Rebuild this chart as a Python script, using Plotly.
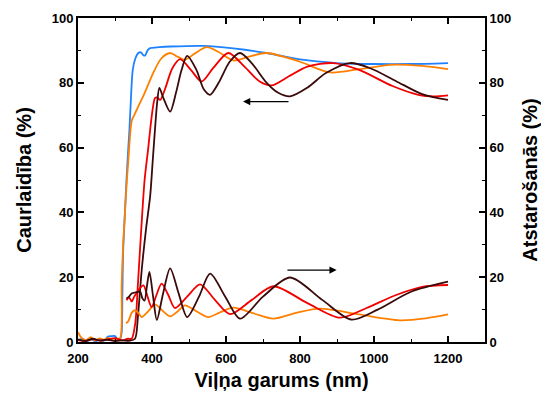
import plotly.graph_objects as go

# ---------------- data ----------------
# Transmission (left axis)
blue_T_wl = [200, 212, 224, 236, 248, 260, 270, 280, 290, 300, 308, 314, 318, 320, 322, 326, 331, 336, 339, 343, 348,
             355, 363, 370, 376, 381, 388, 395, 420, 450, 539, 620, 710, 800, 899, 1000, 1100, 1200]
blue_T = [0.5, 1.0, 0.3, 0.8, 0.2, 1.0, 0.4, 1.6, 1.8, 1.8, 0.5, 1.0, 3, 15, 28, 38, 50, 60, 65.5, 75, 84,
          87.5, 89.2, 89.4, 88.6, 88.4, 90, 90.7, 91, 91.2, 91.4, 90.6, 89.2, 87.2, 86.1, 85.8, 85.8, 86.1]

orange_T_wl = [200, 210, 222, 234, 246, 258, 270, 282, 294, 306, 314, 318, 322, 326, 331, 336, 342, 346, 352, 362,
               376, 390, 403, 425, 449, 470, 489, 515, 548, 580, 620, 660, 710, 800, 881, 960, 1052, 1130, 1200]
orange_T = [3.0, 1.2, 0.6, 1.5, 0.4, 1.1, 0.7, 1.3, 0.5, 1.0, 1.2, 18, 30, 38, 48, 56, 65.5, 68.6, 70, 72.5,
            75.8, 79.5, 83, 87.5, 89.2, 88, 87.1, 89, 91, 89.5, 86.9, 88, 89.2, 86.5, 83.2, 84.2, 85.6, 85.2, 84.2]

red_T_wl = [200, 220, 240, 260, 280, 300, 320, 335, 345, 355, 362, 370, 380, 390, 395, 402, 408, 414, 422, 435,
            455, 476, 505, 534, 565, 606, 650, 690, 723, 770, 820, 890, 960, 1050, 1120, 1160, 1200]
red_T = [0.6, 0.3, 0.9, 0.4, 0.8, 1.2, 0.5, 1.0, 1.0, 6, 18, 33, 50, 60, 65.5, 72, 75.3, 75.5, 74.7, 78,
         84.5, 87.3, 84, 80.4, 84.5, 89.2, 85, 80.5, 79.2, 82, 85, 86.1, 84, 79, 76.3, 75.8, 76.1]

brown_T_wl = [200, 220, 240, 260, 280, 300, 320, 340, 354, 362, 372, 384, 395, 402, 408, 414, 420, 430, 449, 465,
              480, 495, 520, 540, 557, 580, 610, 638, 670, 710, 740, 773, 820, 870, 935, 990, 1060, 1130, 1200]
brown_T = [0.8, 0.3, 1.0, 0.4, 0.7, 0.3, 0.5, 0.4, 1.0, 8, 22, 35, 45, 56, 65.5, 74, 78.4, 75.5, 71.1, 77,
           84, 88.3, 84, 78, 76.3, 80, 86.5, 89.2, 86, 80, 77, 75.8, 78.5, 83, 86.1, 84.5, 80.5, 76.5, 74.7]

# Reflectance (right axis)
red_R_wl = [331, 338, 345, 352, 358, 366, 377, 388, 399, 412, 426, 444, 462, 495, 530, 570, 611, 670, 728,
            820, 908, 980, 1060, 1130, 1200]
red_R = [12.9, 13.8, 12.5, 14, 15, 16.5, 17.5, 14, 10.8, 14.5, 18, 14.5, 10.5, 14, 17.8, 13, 8.6, 13, 17.2,
         12, 7.5, 10.5, 14.5, 17, 17.6]

brown_R_wl = [331, 338, 345, 356, 368, 374, 380, 386, 393, 403, 413, 430, 449, 472, 495, 527, 557, 598, 638, 700,
              773, 860, 939, 1010, 1100, 1200]
brown_R = [13.4, 14, 15, 15.3, 15.5, 13.5, 12.8, 17, 21.6, 14, 6.8, 15, 22.7, 15, 7.7, 14, 21.1, 14, 7.2, 14,
           19.9, 13, 6.9, 10, 15.5, 18.6]

orange_R_wl = [330, 336, 345, 354, 363, 372, 390, 408, 430, 449, 470, 489, 520, 552, 585, 620, 675, 728, 790,
               854, 960, 1070, 1140, 1200]
orange_R = [5.8, 6.4, 9, 9.8, 9, 7.7, 9.5, 11.6, 9.5, 7.9, 9.5, 11.3, 9.5, 7.7, 9.2, 10.6, 8.8, 7.2, 9,
            10.3, 8.5, 6.7, 7.3, 8.5]

x_ticks = [200, 400, 600, 800, 1000, 1200]
y_ticks = [0, 20, 40, 60, 80, 100]

BLUE = "#1E82FF"
ORANGE = "#FF8000"
RED = "#F00000"
BROWN = "#3A0A0A"

fig = go.Figure()

def add(x, y, color, yaxis="y"):
    fig.add_trace(go.Scatter(x=x, y=y, mode="lines", yaxis=yaxis,
                             line=dict(color=color, width=1.8, shape="spline", smoothing=0.8),
                             showlegend=False, hoverinfo="skip"))

add(blue_T_wl, blue_T, BLUE)
add(orange_T_wl, orange_T, ORANGE)
add(red_T_wl, red_T, RED)
add(brown_T_wl, brown_T, BROWN)
add(orange_R_wl, orange_R, ORANGE, "y2")
add(red_R_wl, red_R, RED, "y2")
add(brown_R_wl, brown_R, BROWN, "y2")

FONT = "Liberation Sans, Arial, sans-serif"
tickfont = dict(family=FONT, size=13, color="black", weight="bold")
titlefont = dict(family=FONT, size=20, color="black", weight="bold")

common = dict(ticks="inside", ticklen=6, tickwidth=1.5, tickcolor="black", showline=True, linewidth=2,
              linecolor="black", showgrid=False, zeroline=False, tickfont=tickfont, automargin=False)

# the page body adds an 8 px offset, so the figure is sized to fit inside the 549x399 window
fig.update_layout(
    width=533, height=383,
    margin=dict(l=70, r=56, t=10, b=49),
    plot_bgcolor="white", paper_bgcolor="white",
    xaxis=dict(range=[200, 1300], tickvals=x_ticks, mirror="ticks", ticklabelstandoff=3,
               minor=dict(dtick=100, tick0=200, ticks="inside", ticklen=3, tickcolor="black", tickwidth=1.2),
               title=dict(text="Viļņa garums (nm)", font=titlefont), **common),
    yaxis=dict(range=[0, 100], tickvals=y_ticks,
               minor=dict(dtick=10, ticks="inside", ticklen=3, tickcolor="black", tickwidth=1.2),
               title=dict(text="Caurlaidība (%)", font=titlefont), **common),
    yaxis2=dict(range=[0, 100], tickvals=y_ticks, overlaying="y", side="right",
                minor=dict(dtick=10, ticks="inside", ticklen=3, tickcolor="black", tickwidth=1.2),
                title=dict(text="Atstarošanās (%)", font=titlefont), **common),
)

# arrows indicating which axis each curve group belongs to
fig.add_annotation(x=646, y=74.2, ax=773, ay=74.2, xref="x", yref="y", axref="x", ayref="y",
                   text="", showarrow=True, arrowhead=2, arrowsize=1.2, arrowwidth=1.2, arrowcolor="black")
fig.add_annotation(x=899, y=22.2, ax=762, ay=22.2, xref="x", yref="y", axref="x", ayref="y",
                   text="", showarrow=True, arrowhead=2, arrowsize=1.2, arrowwidth=1.2, arrowcolor="black")

fig.write_html("out.html")
